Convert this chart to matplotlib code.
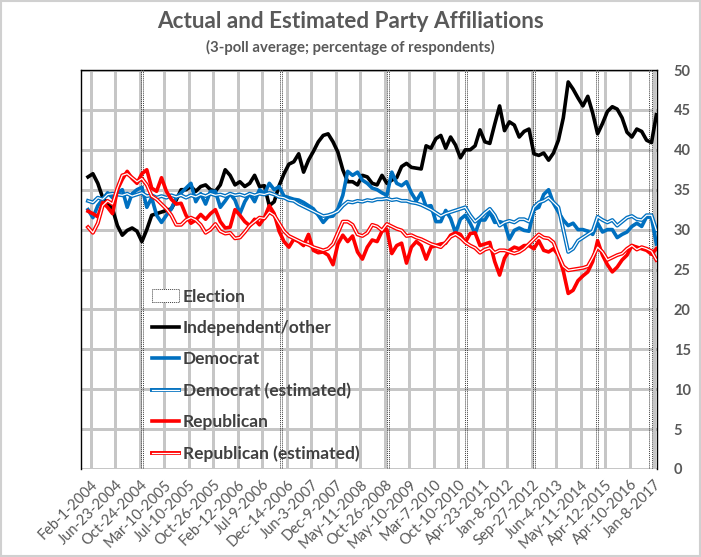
import matplotlib
matplotlib.use('Agg')
import matplotlib.pyplot as plt
from matplotlib.lines import Line2D
from matplotlib.patches import Patch, Rectangle
import numpy as np

plt.rcParams['font.family'] = ['Lato', 'DejaVu Sans']

title = "Actual and Estimated Party Affiliations"
subtitle = "(3-poll average; percentage of respondents)"

tick_labels = ["Feb-1-2004", "Jun-23-2004", "Oct-24-2004", "Mar-10-2005", "Jul-10-2005",
               "Oct-26-2005", "Feb-12-2006", "Jul-9-2006", "Dec-14-2006", "Jun-3-2007",
               "Dec-9-2007", "May-11-2008", "Oct-26-2008", "May-10-2009", "Mar-7-2010",
               "Oct-10-2010", "Apr-23-2011", "Jan-8-2012", "Sep-27-2012", "Jun-4-2013",
               "May-11-2014", "Apr-12-2015", "Apr-10-2016", "Jan-8-2017"]

independent = [36.6, 37.0, 35.8, 34.0, 33.3, 32.6, 30.5, 29.3, 29.9, 30.2,
               29.8, 28.5, 30.0, 31.8, 32.0, 32.2, 32.4, 32.6, 33.7, 35.0,
               35.0, 35.4, 34.8, 35.4, 35.6, 35.0, 34.8, 35.6, 37.5, 36.8,
               35.6, 36.0, 35.4, 35.8, 36.8, 35.4, 35.5, 33.0, 33.5, 35.5,
               37.0, 38.2, 38.5, 39.5, 37.2, 38.7, 39.8, 41.0, 41.8, 42.0,
               41.0, 39.7, 37.5, 36.0, 36.0, 35.6, 36.8, 36.6, 35.8, 35.6,
               36.8, 35.8, 36.2, 36.5, 37.9, 38.3, 37.8, 37.7, 37.6, 40.5,
               40.2, 41.4, 41.8, 40.2, 41.6, 40.6, 39.0, 40.0, 40.0, 40.5,
               42.5, 41.0, 40.8, 43.2, 45.5, 42.4, 43.5, 43.1, 41.6, 42.3,
               42.6, 39.5, 39.3, 39.6, 38.7, 39.6, 41.2, 44.0, 48.5, 47.6,
               46.5, 45.5, 46.7, 44.6, 42.0, 43.3, 44.8, 45.4, 45.1, 44.0,
               42.2, 41.6, 42.6, 42.3, 41.2, 40.9, 44.4]

democrat = [32.5, 31.5, 33.0, 33.8, 34.6, 34.0, 34.6, 35.0, 32.8, 34.5,
            35.0, 35.3, 32.8, 34.0, 31.8, 30.9, 31.8, 32.6, 34.0, 34.6,
            35.2, 35.8, 33.5, 34.5, 33.2, 34.8, 34.8, 32.8, 33.6, 34.5,
            33.7, 32.0, 33.5, 34.5, 33.5, 35.0, 34.5, 35.8, 35.0, 35.4,
            34.2, 34.0, 33.8, 33.7, 33.4, 33.0, 32.6, 31.8, 30.9, 31.6,
            31.7, 32.6, 34.3, 37.3, 36.8, 37.2, 36.2, 35.8, 35.2, 35.0,
            34.6, 34.3, 37.2, 35.8, 35.5, 36.0, 34.6, 33.6, 34.6, 32.9,
            33.0, 31.0, 31.0, 32.4, 31.4, 29.6, 31.3, 31.8, 30.8, 29.5,
            31.2, 31.2, 32.2, 30.9, 31.0, 30.8, 28.8, 29.9, 30.2, 29.9,
            29.8, 32.5, 32.8, 34.4, 35.0, 33.3, 32.2, 31.2, 30.5, 30.8,
            30.0, 30.0, 29.8, 29.4, 30.8, 29.7, 30.0, 30.0, 29.0, 29.4,
            29.7, 30.4, 30.8, 30.4, 31.6, 31.5, 28.2]

democrat_est = [33.6, 33.4, 34.0, 33.8, 34.4, 34.5, 34.4, 34.3, 34.5, 34.2,
                34.4, 34.6, 34.2, 34.3, 34.0, 34.2, 34.0, 34.3, 34.1, 34.3,
                34.0, 34.3, 34.1, 34.4, 34.2, 34.5, 34.3, 34.4, 34.2, 34.5,
                34.3, 34.4, 34.2, 34.5, 34.3, 34.5, 34.4, 34.6, 34.4, 34.1,
                34.0, 33.7, 33.6, 33.2, 32.9, 32.6, 32.3, 32.0, 31.7, 31.8,
                32.0, 32.3, 33.0, 33.5, 33.4, 33.6, 33.5, 33.7, 33.6, 33.8,
                33.8, 33.9, 33.7, 33.8, 33.6, 33.6, 33.4, 33.3, 33.1, 32.8,
                32.5, 32.1, 31.7, 32.0, 32.2, 32.4, 32.6, 32.8, 31.8, 31.0,
                31.5, 32.1, 32.6, 31.8, 30.5, 30.9, 31.1, 30.9, 31.3, 31.3,
                31.0, 32.8, 33.4, 33.6, 34.0, 33.4, 32.8, 30.0, 27.2, 27.6,
                28.6, 29.0, 29.4, 29.8, 31.6, 31.2, 30.9, 31.2, 30.5, 31.0,
                31.5, 31.7, 31.3, 31.2, 31.8, 31.8, 29.9]

republican = [32.3, 32.0, 31.6, 33.4, 32.8, 32.0, 35.0, 36.3, 37.3, 36.4,
              35.8, 37.0, 37.5, 35.2, 34.8, 36.5, 34.8, 33.8, 33.2, 33.3,
              31.8, 30.8, 31.2, 31.9, 31.3, 32.0, 32.5, 31.0, 30.2, 30.3,
              32.5, 31.8, 31.0, 30.5, 31.3, 30.6, 31.5, 33.0, 32.0, 29.8,
              28.5, 27.8, 28.8, 28.5, 28.0, 29.4, 27.4, 27.1, 27.2, 26.8,
              25.6, 28.2, 29.3, 28.5, 29.2, 27.2, 26.3, 27.8, 28.7, 28.5,
              29.8, 30.0, 27.0, 28.0, 28.3, 25.8, 27.8, 28.5, 28.0, 26.3,
              27.8, 28.0, 28.2, 28.3, 29.3, 29.6, 29.4, 28.4, 29.5, 29.6,
              28.0, 28.2, 28.4, 26.0, 24.3, 26.4, 27.4, 27.8, 27.6, 28.0,
              28.0, 27.6, 28.6, 27.4, 27.2, 27.6, 26.8, 24.8, 22.0, 22.4,
              23.6, 24.2, 24.7, 26.0, 28.6, 26.8, 25.6, 24.7, 25.3, 26.2,
              26.8, 28.0, 27.8, 27.6, 27.4, 26.9, 27.6]

republican_est = [30.3, 29.6, 30.8, 33.0, 33.6, 33.2, 35.2, 36.8, 37.0, 36.5,
                  36.0, 36.4, 35.6, 34.2, 33.8, 33.2, 32.6, 31.8, 30.6, 30.6,
                  31.2, 31.5, 31.2, 30.6, 29.6, 30.0, 30.7, 29.8, 29.5, 29.6,
                  28.9, 29.0, 29.7, 30.5, 31.0, 31.5, 31.4, 32.2, 31.8, 30.8,
                  29.8, 29.2, 28.9, 28.6, 28.3, 28.1, 27.8, 27.6, 27.4, 27.6,
                  28.2, 29.6, 31.0, 31.0, 30.6, 29.4, 29.2, 29.6, 30.6, 30.4,
                  29.9, 30.7, 30.4, 30.1, 29.9, 29.2, 29.3, 29.0, 28.8, 28.5,
                  28.2, 28.0, 27.8, 28.4, 29.1, 29.4, 29.0, 28.4, 28.0, 27.7,
                  27.1, 27.5, 27.7, 27.1, 27.4, 27.4, 27.2, 27.0, 27.2, 27.6,
                  28.2, 28.8, 29.4, 29.0, 28.9, 28.4, 26.8, 25.4, 24.9, 25.0,
                  25.1, 25.2, 25.4, 26.5, 27.8, 27.2, 26.2, 26.5, 26.8, 27.0,
                  27.6, 28.0, 27.5, 27.8, 27.6, 27.3, 26.2]

# election weeks, as positions in the poll sequence
election_idx = [11.1, 39.4, 61.2, 77.1, 91.0, 103.8, 114.8]
election_height = 50

n = len(independent)
x = np.arange(n)
tick_step = 5
tick_offset = 0.6
ticks = tick_offset + tick_step * np.arange(len(tick_labels))
yticks = np.arange(0, 51, 5)

fig = plt.figure(figsize=(7.01, 5.57), dpi=100)
fig.patch.set_facecolor('white')
ax = fig.add_axes([81 / 701, 1 - 469 / 557, 576 / 701, 399 / 557])
ax.set_facecolor('white')

BLUE = '#0070C0'
RED = '#FF0000'
GRID = '#c6c6c6'
TXT = '#595959'

xlo, xhi = -7 / 4.9, 569 / 4.9
ax.set_xlim(xlo, xhi)
ax.set_ylim(0, 50)

# gridlines: crisp one-pixel lines
for t in ticks:
    ax.add_line(Line2D([t, t], [0, 50], color=GRID, lw=0.75, antialiased=False,
                       snap=True, zorder=2.5))
for v in yticks:
    ax.add_line(Line2D([xlo, xhi], [v, v], color=GRID, lw=0.75, antialiased=False,
                       snap=True, zorder=2.5))

ax.bar(election_idx, [election_height] * len(election_idx), width=0.45,
       fill=False, edgecolor='#404040', linestyle=(0, (1, 1)), linewidth=0.7, zorder=2.6)

ax.plot(x, independent, color='black', lw=2.6, zorder=3, solid_joinstyle='round')
ax.plot(x, democrat, color=BLUE, lw=2.6, zorder=3, solid_joinstyle='round')
ax.plot(x, democrat_est, color=BLUE, lw=2.8, zorder=4, solid_joinstyle='round')
ax.plot(x, democrat_est, color='white', lw=0.9, zorder=4, solid_joinstyle='round')
ax.plot(x, republican, color=RED, lw=2.6, zorder=5, solid_joinstyle='round')
ax.plot(x, republican_est, color=RED, lw=2.8, zorder=6, solid_joinstyle='round')
ax.plot(x, republican_est, color='white', lw=0.9, zorder=6, solid_joinstyle='round')

ax.set_yticks(yticks)
ax.yaxis.tick_right()
ax.tick_params(axis='y', length=0, pad=12, labelsize=10.5, labelcolor=TXT)
for lbl in ax.get_yticklabels():
    lbl.set_fontweight('bold')
ax.set_xticks(ticks)
ax.set_xticklabels(tick_labels, rotation=45, ha='right', rotation_mode='anchor',
                   fontsize=10.5, color=TXT)
ax.tick_params(axis='x', length=0, pad=6)
for side in ['top', 'left', 'right']:
    ax.spines[side].set_color('black')
    ax.spines[side].set_linewidth(1.0)
ax.spines['bottom'].set_visible(False)

h_el = Patch(facecolor='white', edgecolor='#404040', linestyle=(0, (1, 1)), linewidth=0.7)
h_ind = Line2D([], [], color='black', lw=2.6)
h_dem = Line2D([], [], color=BLUE, lw=2.6)
h_dem_e = (Line2D([], [], color=BLUE, lw=2.8), Line2D([], [], color='white', lw=0.9))
h_rep = Line2D([], [], color=RED, lw=2.6)
h_rep_e = (Line2D([], [], color=RED, lw=2.8), Line2D([], [], color='white', lw=0.9))
leg = ax.legend([h_el, h_ind, h_dem, h_dem_e, h_rep, h_rep_e],
                ["Election", "Independent/other", "Democrat", "Democrat (estimated)",
                 "Republican", "Republican (estimated)"],
                loc='upper left', bbox_to_anchor=(0.124, 0.452), frameon=False,
                prop={'weight': 'bold', 'size': 12.5}, labelcolor='#404040',
                handlelength=1.55, handletextpad=0.2, labelspacing=0.88,
                borderaxespad=0, borderpad=0)
leg.set_zorder(7)

fig.text(0.5, 1 - 22 / 557, title, ha='center', va='center', fontsize=16.2,
         fontweight='bold', color=TXT)
fig.text(0.5, 1 - 47 / 557, subtitle, ha='center', va='center', fontsize=10.7,
         fontweight='bold', color=TXT)

fig.add_artist(Rectangle((0.001, 0.001), 0.998, 0.998, transform=fig.transFigure,
                         fill=False, edgecolor='#d0d0d0', lw=1.5))

fig.savefig('out.png', dpi=100, facecolor='white')
